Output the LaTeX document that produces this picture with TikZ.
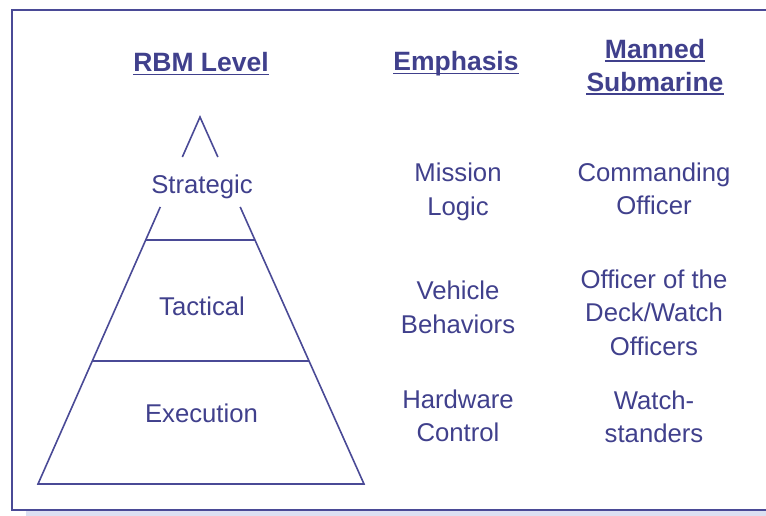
\documentclass[tikz,border=0pt]{standalone}
\usepackage{fontspec}
\setmainfont{Liberation Sans}
\usepackage{tikz}
\usetikzlibrary{calc}
\definecolor{rbmblue}{HTML}{40408C}
\definecolor{rbmline}{HTML}{4A4A96}
\definecolor{rbmshade}{HTML}{DCE0F2}

\begin{document}
\begin{tikzpicture}[x=1pt, y=-1pt,
  cell/.style={inner sep=0pt, anchor=base, align=center, text=rbmblue,
    font=\fontsize{25.7}{33.5}\selectfont},
  head/.style={cell, font=\fontsize{26.5}{33}\selectfont\bfseries},
  edge/.style={draw=rbmline, line width=1.6pt, line join=miter},
  uline/.style={draw=rbmblue, line width=1.5pt}]
\useasboundingbox (0,0) rectangle (766,515);

% Frame
\fill[rbmshade] (26,511) rectangle (770,516);
\draw[edge, line width=2pt] (770,10) -- (12,10) -- (12,510) -- (770,510);

% Pyramid
\coordinate (apex) at (200,117);
\coordinate (bl) at (38,484);
\coordinate (br) at (364,484);
\draw[edge] ($(apex)!0.109!(bl)$) -- (apex) -- ($(apex)!0.109!(br)$);
\draw[edge] ($(apex)!0.245!(bl)$) -- (bl) -- (br) -- ($(apex)!0.245!(br)$);
\draw[edge] ($(apex)!0.335!(bl)$) -- ($(apex)!0.335!(br)$);
\draw[edge] ($(apex)!0.665!(bl)$) -- ($(apex)!0.665!(br)$);

% Headers
\node[head] (rbm) at (201,71.5) {RBM Level};
\node[head] (emph) at (456,70.5) {Emphasis};
\node[head] (manned) at (655,58) {Manned};
\node[head] (sub) at (655,91) {Submarine};
\foreach \n in {rbm,emph,manned,sub}
  \draw[uline] ([yshift=-3pt]\n.base west) -- ([yshift=-3pt]\n.base east);

% Levels
\node[cell] (strat) at (202,193.3) {Strategic};
\node[cell] (tact) at (202,315) {Tactical};
\node[cell] (exec) at (201.5,422) {Execution};

% Emphasis column (base = last line)
\node[cell] (logic) at (458,215) {Mission\\Logic};
\node[cell] (behav) at (458,333) {Vehicle\\Behaviors};
\node[cell] (hw) at (458,441.5) {Hardware\\Control};

% Submarine column
\node[cell] (co) at (654,214.5) {Commanding\\Officer};
\node[cell] (ood) at (654,355) {Officer of the\\Deck/Watch\\Officers};
\node[cell] (watch) at (654,442.5) {Watch-\\standers};
\end{tikzpicture}
\end{document}
